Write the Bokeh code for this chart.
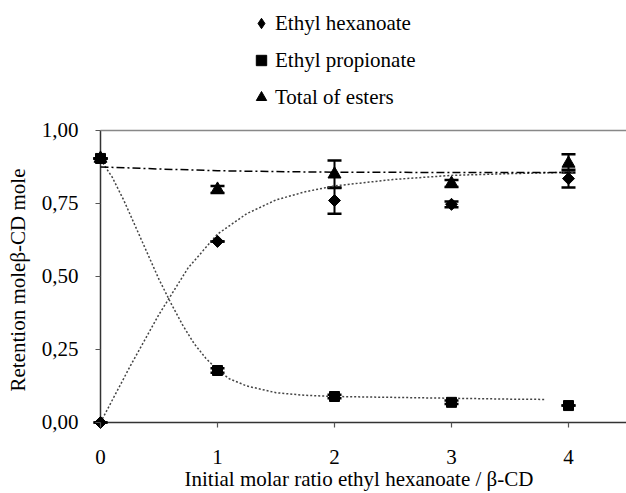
import math
from bokeh.plotting import figure
from bokeh.layouts import column
from bokeh.models import (Range1d, FixedTicker, Legend, LegendItem, Whisker,
                          ColumnDataSource, TeeHead, Grid)
from bokeh.embed import file_html
from bokeh.resources import INLINE

# ---- data ----
ratio = [0, 1, 2, 3, 4]
hexanoate = [0.00, 0.62, 0.76, 0.747, 0.835]
hexanoate_err = [0.0, 0.0, 0.045, 0.010, 0.030]
propionate = [0.904, 0.178, 0.089, 0.069, 0.058]
propionate_err = [0.0, 0.008, 0.006, 0.006, 0.0]
total = [0.904, 0.798, 0.850, 0.818, 0.887]
total_err = [0.0, 0.012, 0.047, 0.012, 0.031]

# fitted trend curves
fit_hex_x = [0, 0.25, 0.5, 0.75, 1.0, 1.25, 1.5, 1.75, 2.0, 2.5, 3.0, 3.5, 4.05]
fit_hex_y = [0, 0.19, 0.37, 0.53, 0.645, 0.715, 0.762, 0.79, 0.81, 0.832, 0.846, 0.852, 0.857]
fit_pro_x = [0, 0.1, 0.2, 0.3, 0.4, 0.5, 0.6, 0.7, 0.8, 0.9, 1.0, 1.1, 1.25, 1.5,
             1.75, 2.0, 2.5, 3.0, 3.5, 3.8]
fit_pro_y = [0.90, 0.84, 0.76, 0.67, 0.58, 0.49, 0.41, 0.335, 0.27, 0.22, 0.18, 0.15,
             0.125, 0.102, 0.093, 0.089, 0.086, 0.083, 0.080, 0.079]
fit_tot_x = [0, 0.5, 1.0, 1.5, 2.0, 3.0, 4.0]
fit_tot_y = [0.875, 0.868, 0.862, 0.859, 0.857, 0.856, 0.856]

x_ticks = [0, 1, 2, 3, 4]
y_ticks = [0, 0.25, 0.5, 0.75, 1.0]
y_tick_labels = ["0,00", "0,25", "0,50", "0,75", "1,00"]
legend_labels = ["Ethyl hexanoate", "Ethyl propionate", "Total of esters"]
x_title = "Initial molar ratio ethyl hexanoate / \u03b2-CD"
y_title = "Retention mole\u03b2-CD mole"

FONT = "Liberation Serif"
X_MAX = 4.5
Y_MAX = 1.0

# marker styles
DIAMOND = dict(marker="square", size=8.5, angle=math.pi / 4, color="black")
SQUARE = dict(marker="square", size=10, color="black")
TRIANGLE = dict(marker="triangle", size=13, color="black")

# ---------------- main chart ----------------
p = figure(width=626, height=381, output_backend="svg", toolbar_location=None,
           x_range=Range1d(-9 / 117, 526 / 117), y_range=Range1d(-10 / 292, 1.01),
           min_border_left=91, min_border_right=0, min_border_top=15,
           min_border_bottom=61)
p.outline_line_color = None
p.background_fill_color = "white"
p.border_fill_color = "white"

p.xaxis.ticker = FixedTicker(ticks=x_ticks)
p.yaxis.ticker = FixedTicker(ticks=y_ticks)
p.yaxis.major_label_overrides = {t: l for t, l in zip(y_ticks, y_tick_labels)}
for ax in (p.xaxis, p.yaxis):
    ax.axis_line_color = None
    ax.major_tick_line_color = "#555555"
    ax.major_tick_line_width = 1.2
    ax.minor_tick_line_color = None
    ax.major_label_text_font = FONT
    ax.major_label_text_font_size = "21px"
    ax.major_label_text_color = "black"
    ax.axis_label_text_font = FONT
    ax.axis_label_text_font_size = "21px"
    ax.axis_label_text_font_style = "normal"
    ax.axis_label_text_color = "black"
# ticks sit on the zero lines, which lie slightly inside the frame
p.xaxis.major_tick_in = 10
p.xaxis.major_tick_out = -5
p.yaxis.major_tick_in = 9
p.yaxis.major_tick_out = -4
p.xaxis.axis_label = x_title
p.yaxis.axis_label = y_title
p.xaxis.major_label_standoff = 17
p.xaxis.axis_label_standoff = 0
p.yaxis.major_label_standoff = 13
p.yaxis.axis_label_standoff = 9

# axis lines through zero and the top line at 1.00
p.xgrid.ticker = FixedTicker(ticks=[0])
p.xgrid.cross_bounds = (0, Y_MAX)
p.xgrid.grid_line_color = "#333333"
p.xgrid.grid_line_width = 1.5
p.ygrid.ticker = FixedTicker(ticks=[0])
p.ygrid.cross_bounds = (0, X_MAX)
p.ygrid.grid_line_color = "#333333"
p.ygrid.grid_line_width = 1.5
top_line = Grid(dimension=1, ticker=FixedTicker(ticks=[Y_MAX]), cross_bounds=(0, X_MAX),
                grid_line_color="#888888", grid_line_width=1.5)
p.add_layout(top_line)

# fitted curves
p.line(fit_hex_x, fit_hex_y, line_color="#444444", line_width=1.5, line_dash="2 2")
p.line(fit_pro_x, fit_pro_y, line_color="#444444", line_width=1.5, line_dash="2 2")
p.line(fit_tot_x, fit_tot_y, line_color="black", line_width=1.5, line_dash="8 3 2 3")

# error bars
def add_err(fig, vals, errs):
    lo = [v - e for v, e in zip(vals, errs)]
    hi = [v + e for v, e in zip(vals, errs)]
    src = ColumnDataSource(dict(x=ratio, lower=lo, upper=hi))
    w = Whisker(source=src, base="x", lower="lower", upper="upper",
                line_color="black", line_width=2,
                upper_head=TeeHead(size=14, line_width=2.5, line_color="black"),
                lower_head=TeeHead(size=14, line_width=2.5, line_color="black"))
    fig.add_layout(w)

add_err(p, hexanoate, hexanoate_err)
add_err(p, total, total_err)
add_err(p, propionate, propionate_err)

p.scatter(ratio, hexanoate, **DIAMOND)
p.scatter(ratio, propionate, **SQUARE)
p.scatter(ratio, total, **TRIANGLE)

# ---------------- legend strip above the chart ----------------
lg = figure(width=626, height=112, output_backend="svg", toolbar_location=None,
            x_range=Range1d(0, 1), y_range=Range1d(0, 1),
            x_axis_location=None, y_axis_location=None,
            min_border_left=91, min_border_right=0, min_border_top=0, min_border_bottom=0)
lg.outline_line_color = None
lg.xgrid.visible = False
lg.ygrid.visible = False
nan = [float("nan")]
l_hex = lg.scatter(nan, nan, marker="diamond", size=14, color="black")
l_pro = lg.scatter(nan, nan, **SQUARE)
l_tot = lg.scatter(nan, nan, **TRIANGLE)
legend = Legend(items=[LegendItem(label=legend_labels[0], renderers=[l_hex]),
                       LegendItem(label=legend_labels[1], renderers=[l_pro]),
                       LegendItem(label=legend_labels[2], renderers=[l_tot])],
                location=(157, 2), orientation="vertical",
                label_text_font=FONT, label_text_font_size="21px",
                label_text_color="black",
                glyph_width=26, glyph_height=26, label_height=20,
                spacing=11, padding=0, margin=0, label_standoff=1,
                border_line_color=None, background_fill_alpha=0)
lg.add_layout(legend, "center")

layout = column(lg, p, spacing=0)
open("out.html", "w").write(file_html(layout, INLINE))
